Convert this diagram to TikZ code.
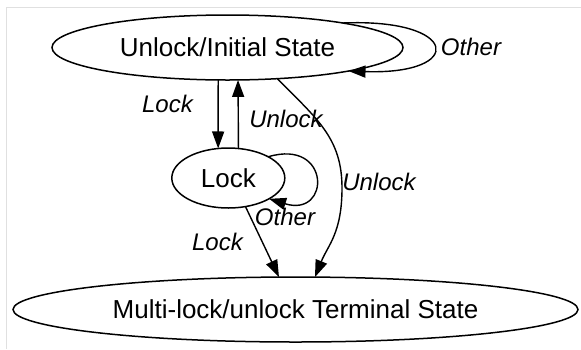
\documentclass[tikz,border=0pt]{standalone}
\usepackage{fontspec}
\setmainfont{Liberation Sans}
\usetikzlibrary{shapes.geometric,arrows.meta}
\begin{document}
\begin{tikzpicture}[x=1pt,y=-1pt,
  state/.style={ellipse,draw,line width=1.5pt,inner sep=0pt,outer sep=0pt,
                font=\fontsize{26}{30}\selectfont},
  edge/.style={line width=1.4pt,-{Triangle[length=17pt,width=12pt]}},
  lbl/.style={inner sep=0pt,anchor=base,font=\fontsize{24}{28}\selectfont\itshape}]
\useasboundingbox (0,0) rectangle (581,349);
% faint frame along the top and left
\draw[line width=1pt,color=black!12] (6,349) -- (6,7) -- (581,7);

% states
\node[state,minimum width=351pt,minimum height=65pt] (init) at (227.5,47.5) {Unlock/Initial State};
\node[state,minimum width=113pt,minimum height=60pt] (lock) at (228.3,178) {Lock};
\node[state,minimum width=565pt,minimum height=65pt] (term) at (295.5,309.5) {Multi-lock/unlock Terminal State};

% transitions
\draw[edge] (init.-106.3) -- (lock.109.2);
\draw[edge] (lock.71.8) -- (init.-72.1);
\draw[edge] (init.12.5) .. controls (460,18) and (466,75) .. (init.-11.3);
\draw[edge] (lock.28.3) .. controls (331,138) and (331,218) .. (lock.-27.2);
\draw[edge] (lock.-59.8) -- (term.117);
\draw[edge] (init.-32.2) .. controls (317,119) and (342,138) .. (342,188)
            .. controls (342,233) and (328,245) .. (term.59);

% transition labels
\node[lbl] (lOtherA) at (471,55) {Other};
\node[lbl] (lLockA) at (167.5,112) {Lock};
\node[lbl] (lUnlockA) at (286,127) {Unlock};
\node[lbl] (lOtherB) at (285,225) {Other};
\node[lbl] (lLockB) at (217.5,250) {Lock};
\node[lbl] (lUnlockB) at (379,190) {Unlock};
\end{tikzpicture}
\end{document}
